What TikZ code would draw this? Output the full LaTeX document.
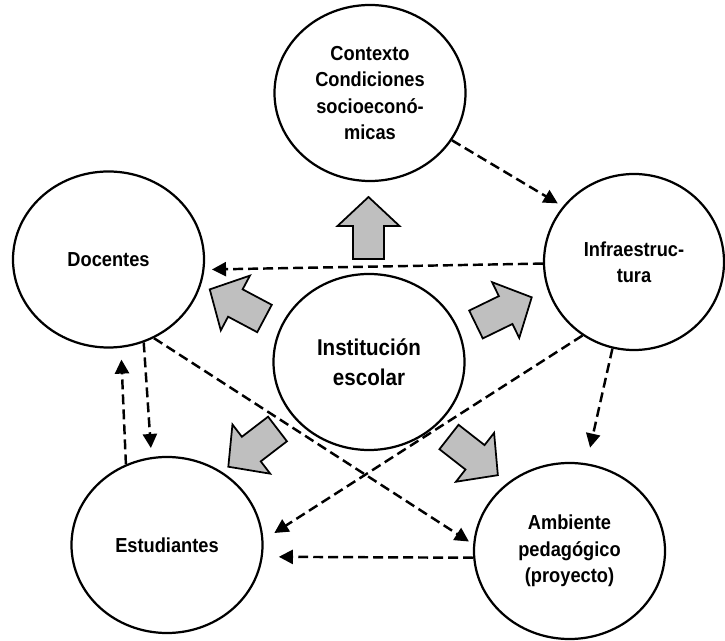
\documentclass[tikz,border=0pt]{standalone}
\usepackage{fontspec}
\setmainfont{Liberation Sans}[FakeStretch=0.9]
\usetikzlibrary{arrows.meta}
\usetikzlibrary{shapes.geometric}

\definecolor{arrowgray}{RGB}{191,191,191}

\begin{document}
\begin{tikzpicture}[x=0.03cm,y=0.03cm,
    bubble/.style={draw,ellipse,line width=1.9pt,minimum width=5.73cm,minimum height=5.28cm,
        inner sep=0pt,align=center,font=\bfseries\fontsize{17.3}{22.6}\selectfont},
    flow/.style={line width=2.1pt,dash pattern=on 8.5pt off 4.3pt,
        -{Triangle[length=12pt,width=12pt]}},
    blockarrow/.pic={
        \draw[fill=arrowgray,line width=1.5pt] (0,-15.5) -- (33,-15.5) -- (33,-31) -- (62,0)
            -- (33,31) -- (33,15.5) -- (0,15.5) -- cycle;
    }]
    % page frame, same size as the reference
    \useasboundingbox (0,0) rectangle (725,640);

    \node[bubble] (contexto) at (370,547) {Contexto\\Condiciones\\socioeconó-\\micas};
    \node[bubble] (docentes) at (108.5,380.5) {Docentes};
    \node[bubble,minimum width=5.4cm] (infra) at (634,378) {Infraestruc-\\tura};
    \node[bubble,font=\bfseries\fontsize{19.5}{25.5}\selectfont] (escuela) at (369,278) {Institución\\escolar};
    \node[bubble] (estudiantes) at (167,95) {Estudiantes};
    \node[bubble] (ambiente) at (569.5,89) {Ambiente\\pedagógico\\(proyecto)};

    % gray arrows going out of the school
    \foreach \x/\y/\a in {368.5/381/90, 264.5/321.5/152, 476/315.5/26, 277.5/211/217.5, 449/203/-38}
        \pic[rotate=\a] at (\x,\y) {blockarrow};

    % dashed relations
    \draw[flow,shorten >=5pt] (contexto.-30) -- (infra.142);
    \draw[flow,shorten >=6.4pt] (infra.181) -- (docentes.-6);
    \draw[flow,shorten >=7.7pt] (docentes.-67) -- (estudiantes.100);
    \draw[flow,shorten >=10pt] (estudiantes.117) -- (docentes.-82);
    \draw[flow,shorten >=4.3pt] (docentes.-60) -- (ambiente.176);
    \draw[flow,shorten >=11pt] (infra.-125) -- (estudiantes.3);
    \draw[flow,shorten >=13.7pt] (infra.-104) -- (ambiente.79);
    \draw[flow,shorten >=13.7pt] (ambiente.184) -- (estudiantes.-7);
\end{tikzpicture}
\end{document}
